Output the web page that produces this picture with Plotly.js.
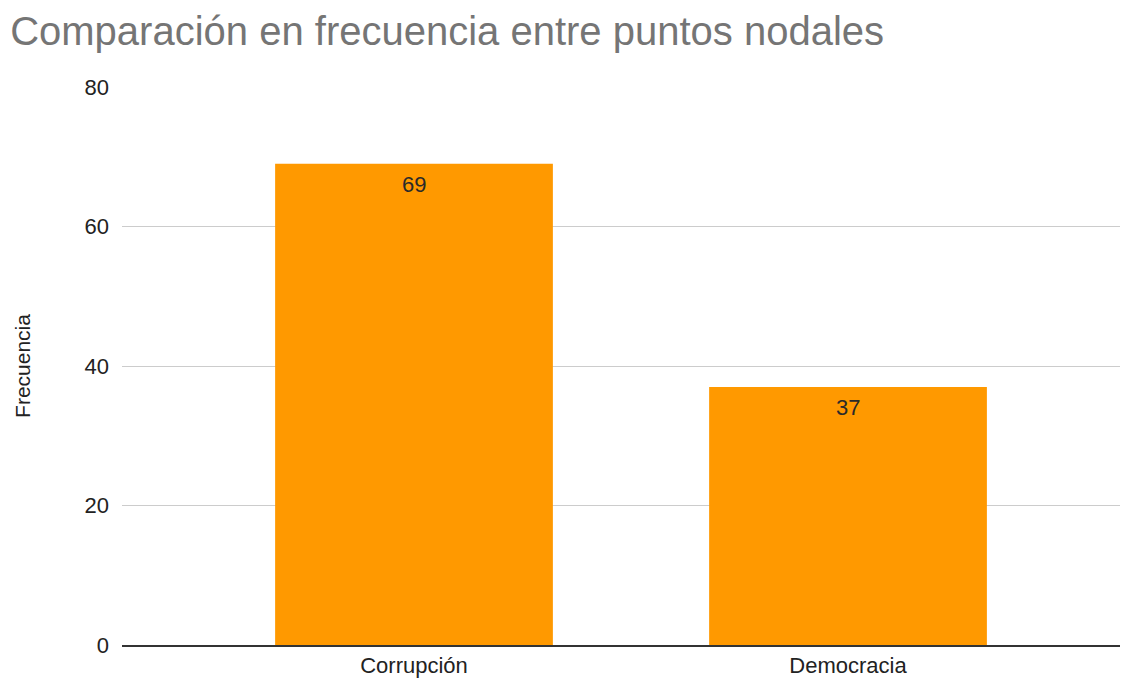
<!DOCTYPE html>
<html><head><meta charset="utf-8">
<script src="https://cdn.plot.ly/plotly-3.0.1.min.js"></script>
<style>html,body{margin:0;padding:0;background:#fff}#chart{width:1130px;height:679px}</style>
</head><body><div id="chart"></div>
<script>
const categories = ["Corrupción", "Democracia"];
const frecuencia = [69, 37];
const yTicks = [0, 20, 40, 60, 80];

const trace = {
  type: "bar",
  x: categories,
  y: frecuencia,
  width: 0.64,
  marker: {color: "#ff9900"},
  hoverinfo: "x+y"
};

const annotations = categories.map((c, i) => ({
  x: c, y: frecuencia[i], xref: "x", yref: "y",
  text: String(frecuencia[i]), showarrow: false,
  yanchor: "middle", yshift: -21,
  font: {family: "Liberation Sans, Arial, sans-serif", size: 22, color: "#2a2a2a"}
}));

const layout = {
  width: 1130, height: 679,
  margin: {l: 122, r: 10, t: 87, b: 34},
  paper_bgcolor: "#fff", plot_bgcolor: "#fff",
  showlegend: false,
  title: {text: "Comparación en frecuencia entre puntos nodales",
    x: 0.009, xanchor: "left", y: 0.955, yanchor: "middle",
    font: {family: "Liberation Sans, Arial, sans-serif", size: 40, color: "#757575"}},
  font: {family: "Liberation Sans, Arial, sans-serif", size: 22, color: "#222"},
  xaxis: {range: [-0.6728, 1.6267], showgrid: false, zeroline: false,
    showline: true, linecolor: "#333", linewidth: 2, ticks: "",
    tickfont: {size: 22, color: "#222"}, fixedrange: true},
  yaxis: {range: [0, 80], tickvals: yTicks, ticktext: yTicks.map(String),
    showgrid: true, gridcolor: "#cccccc", gridwidth: 1, zeroline: false,
    showline: false, ticks: "", ticklabelstandoff: 12,
    tickfont: {size: 22, color: "#222"},
    title: {text: "Frecuencia", standoff: 48, font: {size: 21, color: "#222"}}},
  annotations: annotations
};

Plotly.newPlot("chart", [trace], layout, {displayModeBar: false, staticPlot: true});
</script></body></html>
